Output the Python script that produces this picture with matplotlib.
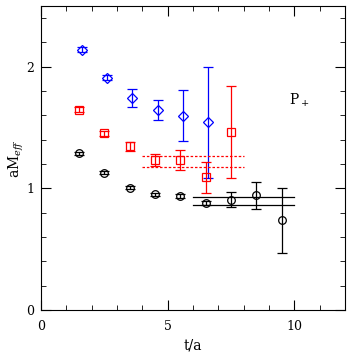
import matplotlib
matplotlib.use('Agg')
import matplotlib.pyplot as plt
from matplotlib.ticker import MultipleLocator

# black circles
t_blk = [1.5, 2.5, 3.5, 4.5, 5.5, 6.5, 7.5, 8.5, 9.5]
m_blk = [1.288, 1.129, 1.005, 0.951, 0.940, 0.882, 0.907, 0.942, 0.737]
e_blk = [0.012, 0.012, 0.012, 0.012, 0.015, 0.018, 0.06, 0.11, 0.27]
fit_blk = [0.926, 0.863]
fit_blk_t = [6, 10]

# red squares
t_red = [1.5, 2.5, 3.5, 4.5, 5.5, 6.5, 7.5]
m_red = [1.647, 1.455, 1.345, 1.236, 1.233, 1.090, 1.464]
e_red = [0.02, 0.02, 0.04, 0.05, 0.083, 0.126, 0.377]
fit_red = [1.263, 1.175]
fit_red_t = [4, 8]

# blue diamonds
t_blu = [1.6, 2.6, 3.6, 4.6, 5.6, 6.6]
m_blu = [2.14, 1.912, 1.745, 1.644, 1.597, 1.543]
e_blu = [0.02, 0.02, 0.074, 0.08, 0.21, 0.455]

plt.rcParams['font.family'] = ['DejaVu Serif']
plt.rcParams['mathtext.fontset'] = 'dejavuserif'

fig = plt.figure(figsize=(3.54, 3.62), dpi=100)
ax = fig.add_axes([41/354, 52/362, 304/354, 304/362])

kw = dict(ls='none', mfc='none', capsize=3.5, elinewidth=0.9, capthick=0.9, mew=0.9)
ax.errorbar(t_blu, m_blu, yerr=e_blu, fmt='D', color='blue', ms=5, **kw)
ax.errorbar(t_red, m_red, yerr=e_red, fmt='s', color='red', ms=6, **kw)
ax.errorbar(t_blk, m_blk, yerr=e_blk, fmt='o', color='black', ms=5.5, **kw)

for y in fit_red:
    ax.plot(fit_red_t, [y, y], color='red', ls=(0, (2, 1.5)), lw=0.9)
for y in fit_blk:
    ax.plot(fit_blk_t, [y, y], color='black', lw=0.9)

ax.text(9.8, 1.69, r'P$_+$', fontsize=10)

ax.set_xlim(0, 12)
ax.set_ylim(0, 2.5)
ax.xaxis.set_major_locator(MultipleLocator(5))
ax.xaxis.set_minor_locator(MultipleLocator(1))
ax.yaxis.set_major_locator(MultipleLocator(1))
ax.yaxis.set_minor_locator(MultipleLocator(0.2))
ax.tick_params(which='both', direction='in', top=True, right=True, labelsize=9)
ax.tick_params(which='major', length=7, width=0.8)
ax.tick_params(which='minor', length=3.5, width=0.6)
ax.tick_params(axis='x', which='major', pad=7)
ax.tick_params(axis='y', which='major', pad=5)
ax.set_xlabel('t/a', fontsize=10, labelpad=4)
ax.set_ylabel(r'aM$_{eff}$', fontsize=10, labelpad=0)

fig.savefig('out.png', dpi=100)
